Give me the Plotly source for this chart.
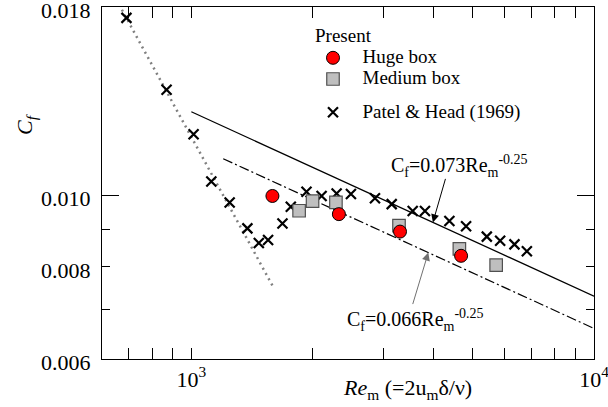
import math
import plotly.graph_objects as go

# ---- data ----
patel_re = [690, 868, 1013, 1121, 1245, 1378, 1471, 1551, 1684, 1766, 1932, 2106,
            2295, 2491, 2858, 3145, 3546, 3804, 4374, 4812, 5417, 5847, 6346, 6812]
patel_cf = [0.0174, 0.0139, 0.0121, 0.01044, 0.00978, 0.00902, 0.00862, 0.00870,
            0.00916, 0.00965, 0.01011, 0.00998, 0.01006, 0.01004, 0.00991, 0.00973,
            0.00952, 0.00952, 0.00923, 0.00908, 0.00879, 0.00868, 0.00858, 0.00840]

huge_re = [1590, 2325, 3298, 4677]
huge_cf = [0.00998, 0.00943, 0.00893, 0.00828]

medium_re = [1852, 2000, 2286, 3279, 4631, 5715]
medium_cf = [0.00953, 0.00982, 0.00978, 0.00910, 0.00846, 0.00804]

fit073_re = [1000, 10000]
fit073_cf = [0.01298, 0.0073]
fit066_re = [1200, 10000]
fit066_cf = [0.01121, 0.0066]
laminar_re = [640, 1600]
laminar_cf = [0.01875, 0.0075]

x_major = [1000, 5000, 10000]
x_major_text = ["10<sup>3</sup>", "", "10<sup>4</sup>"]
x_minor = [700, 800, 900, 2000, 3000, 4000, 6000, 7000, 8000, 9000]
y_ticks = [0.006, 0.007, 0.008, 0.009, 0.010, 0.018]
y_ticktext = ["0.006", "", "0.008", "", "0.010", "0.018"]
y_long = [0.010]

FONT = "Liberation Serif, Times New Roman, serif"
W, H = 608, 407
ML, MR, MT, MB = 102, 14, 7, 48
PW, PH = W - ML - MR, H - MT - MB
EPS = 1e-5


def px(xp):
    return (xp - ML) / PW


def py(yp):
    return (H - MB - yp) / PH


def big(s):
    return '<span style="font-size:19px">&nbsp;&nbsp;' + s + '</span>'


fig = go.Figure()

fig.add_trace(go.Scatter(x=laminar_re, y=laminar_cf, mode="lines",
                         line=dict(color="#808080", width=2.5, dash="2px,4px"),
                         showlegend=False, hoverinfo="skip"))
fig.add_trace(go.Scatter(x=fit073_re, y=fit073_cf, mode="lines",
                         line=dict(color="black", width=1.3),
                         showlegend=False, hoverinfo="skip"))
fig.add_trace(go.Scatter(x=fit066_re, y=fit066_cf, mode="lines",
                         line=dict(color="black", width=1.2, dash="10px,3px,2px,3px"),
                         showlegend=False, hoverinfo="skip"))

fig.add_trace(go.Scatter(x=huge_re, y=huge_cf, mode="markers", name=big("Huge box"),
                         legendgroup="a", zorder=3,
                         marker=dict(symbol="circle", size=13, color="#ff0000",
                                     line=dict(color="black", width=1))))
fig.add_trace(go.Scatter(x=medium_re, y=medium_cf, mode="markers", name=big("Medium box"),
                         legendgroup="a", zorder=2,
                         marker=dict(symbol="square", size=12.5, color="#bfbfbf",
                                     line=dict(color="#505050", width=1.2))))
fig.add_trace(go.Scatter(x=patel_re, y=patel_cf, mode="markers", name=big("Patel &amp; Head (1969)"),
                         legendgroup="b", zorder=1,
                         marker=dict(symbol="x-thin", size=10, color="black",
                                     line=dict(color="black", width=2.2))))
# carrier for the long-tick overlay axis
fig.add_trace(go.Scatter(x=[], y=[], yaxis="y2", showlegend=False, hoverinfo="skip"))

axis_common = dict(showline=True, linecolor="black", linewidth=1.3, mirror="allticks",
                   ticks="inside", tickcolor="black", tickwidth=1.3, showgrid=False,
                   zeroline=False, ticklabeloverflow="allow", automargin=False)

yrange = [math.log10(0.006) - EPS, math.log10(0.018) + EPS]

fig.update_layout(
    width=W, height=H,
    margin=dict(l=ML, r=MR, t=MT, b=MB, autoexpand=False),
    plot_bgcolor="white", paper_bgcolor="white",
    font=dict(family=FONT, color="black", size=20),
    xaxis=dict(type="log", range=[math.log10(600), 4 + EPS], tickvals=x_major,
               ticktext=x_major_text, ticklen=11,
               tickfont=dict(size=22, family=FONT, color="black"),
               minor=dict(tickvals=x_minor, ticks="inside", ticklen=6, tickwidth=1.3,
                          tickcolor="black", showgrid=False),
               **axis_common),
    yaxis=dict(type="log", range=yrange,
               tickvals=y_ticks, ticktext=y_ticktext, ticklen=8, ticklabelstandoff=6,
               ticklabelshift=3,
               tickfont=dict(size=22, family=FONT, color="black"), **axis_common),
    yaxis2=dict(type="log", range=yrange,
                overlaying="y", side="left", anchor="x", tickvals=y_long, ticklen=17,
                showticklabels=False, **axis_common),
    legend=dict(x=px(313), y=py(24), xanchor="left", yanchor="top",
                bgcolor="rgba(0,0,0,0)", font=dict(size=14, family=FONT, color="black"),
                title=dict(text='<span style="font-size:19px">Present</span>',
                           font=dict(size=14, family=FONT, color="black"), side="top"),
                traceorder="grouped", tracegroupgap=12, itemwidth=30),
    showlegend=True,
)

txt = dict(family=FONT, color="black")
ann = [
    dict(text="C<sub>f</sub>=0.073Re<sub>m</sub><sup>-0.25</sup>", xref="paper", yref="paper",
         x=px(459), y=py(166), xanchor="center", yanchor="middle", showarrow=False,
         font=dict(size=20, **txt)),
    dict(text="", xref="x", yref="y", x=math.log10(3980), y=math.log10(0.00919),
         ax=13, ay=-45, showarrow=True, arrowhead=2, arrowsize=1.6, arrowwidth=1,
         arrowcolor="black", standoff=0),
    dict(text="C<sub>f</sub>=0.066Re<sub>m</sub><sup>-0.25</sup>", xref="paper", yref="paper",
         x=px(415), y=py(320), xanchor="center", yanchor="middle", showarrow=False,
         font=dict(size=20, **txt)),
    dict(text="", xref="x", yref="y", x=math.log10(3877), y=math.log10(0.008364),
         ax=-16, ay=53, showarrow=True, arrowhead=2, arrowsize=1.6, arrowwidth=1,
         arrowcolor="#707070", standoff=0),
    dict(text="<i>C<sub>f</sub></i>", xref="paper", yref="paper", x=px(26), y=py(124),
         xanchor="center", yanchor="middle", showarrow=False, textangle=-90,
         font=dict(size=22, **txt)),
    dict(text="<i>Re</i><sub>m</sub> (=2u<sub>m</sub>δ/ν)", xref="paper", yref="paper",
         x=px(407), y=py(389), xanchor="center", yanchor="middle", showarrow=False,
         font=dict(size=22, **txt)),
]
fig.update_layout(annotations=ann)

fig.write_html("out.html")
